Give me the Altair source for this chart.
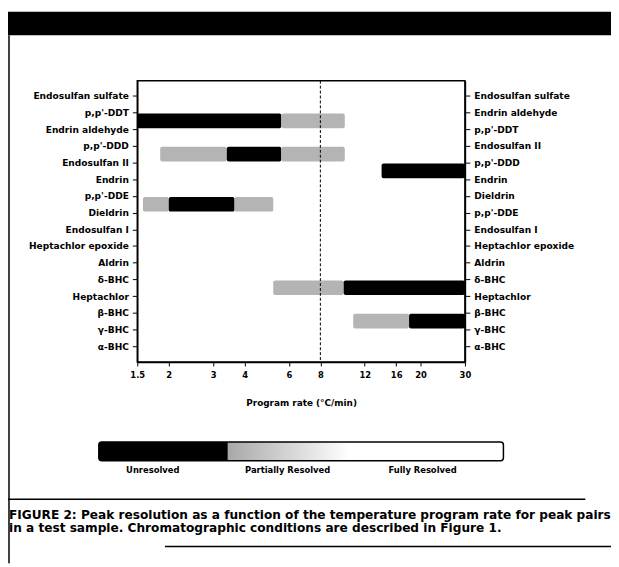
import json
import altair as alt
import pandas as pd

# ---- data ----
left_labels = ["Endosulfan sulfate", "p,p'-DDT", "Endrin aldehyde", "p,p'-DDD",
               "Endosulfan II", "Endrin", "p,p'-DDE", "Dieldrin", "Endosulfan I",
               "Heptachlor epoxide", "Aldrin", "δ-BHC", "Heptachlor", "β-BHC",
               "γ-BHC", "α-BHC"]
right_labels = ["Endosulfan sulfate", "Endrin aldehyde", "p,p'-DDT", "Endosulfan II",
                "p,p'-DDD", "Endrin", "Dieldrin", "p,p'-DDE", "Endosulfan I",
                "Heptachlor epoxide", "Aldrin", "δ-BHC", "Heptachlor", "β-BHC",
                "γ-BHC", "α-BHC"]
x_ticks = [1.5, 2, 3, 4, 6, 8, 12, 16, 20, 30]
legend_labels = ["Unresolved", "Partially Resolved", "Fully Resolved"]

# peak-pair row (upper label index) and resolution segments
seg_row = [1, 1, 3, 3, 3, 4, 6, 6, 6, 11, 11, 13, 13]
seg_start = [1.5, 5.6, 1.85, 3.4, 5.6, 14, 1.58, 2.0, 3.65, 5.2, 9.9, 10.8, 18]
seg_end = [5.6, 10, 3.4, 5.6, 10, 30, 2.0, 3.65, 5.2, 9.9, 30, 18, 30]
seg_state = ["Unresolved", "Partially Resolved",
             "Partially Resolved", "Unresolved", "Partially Resolved",
             "Unresolved",
             "Partially Resolved", "Unresolved", "Partially Resolved",
             "Partially Resolved", "Unresolved",
             "Partially Resolved", "Unresolved"]
divider_rate = [8]

caption_lines = [
    "FIGURE 2:  Peak resolution as a function of the temperature program rate for peak pairs",
    "in a test sample. Chromatographic conditions are described in Figure 1.",
]

# ---- chart ----
FONT = "DejaVu Sans"
seg = pd.DataFrame({"row": seg_row, "start": seg_start, "end": seg_end, "state": seg_state})

yscale = alt.Scale(domain=[-0.9, 15.95], reverse=True, nice=False, zero=False)
xscale = alt.Scale(type="log", domain=[1.5, 30], nice=False)


def lab_expr(labels):
    return json.dumps(labels, ensure_ascii=False) + "[round(datum.value)]"


common = dict(labelFont=FONT, labelFontWeight="bold", labelColor="black",
              tickColor="black", domainColor="black", grid=False, domainWidth=1.5)

bars = alt.Chart(seg).transform_calculate(
    y0="datum.row + 0.06", y1="datum.row + 0.94"
).mark_rect(cornerRadius=2).encode(
    x=alt.X("start:Q", scale=xscale,
            axis=alt.Axis(values=x_ticks, format="~g", title="Program rate (°C/min)",
                          tickSize=4, labelPadding=5, labelFontSize=8.5, labelFlush=False,
                          titleFont=FONT, titleFontSize=9, titleFontWeight="bold",
                          titlePadding=20, titleColor="black", **common)),
    x2="end:Q",
    y=alt.Y("y0:Q", scale=yscale,
            axis=alt.Axis(values=list(range(16)), labelExpr=lab_expr(left_labels), title=None,
                          tickSize=5, labelPadding=4, labelFontSize=9.2, **common)),
    y2="y1:Q",
    color=alt.Color("state:N",
                    scale=alt.Scale(domain=legend_labels[:2], range=["black", "#b4b4b4"]),
                    legend=None),
)

rule = alt.Chart(pd.DataFrame({"rate": divider_rate})).mark_rule(
    strokeDash=[3, 2], color="black", strokeWidth=1
).encode(x="rate:Q")

right_axis = alt.Chart(pd.DataFrame({"idx": list(range(16))})).mark_point(opacity=0).encode(
    y=alt.Y("idx:Q", scale=yscale,
            axis=alt.Axis(orient="right", values=list(range(16)), labelExpr=lab_expr(right_labels),
                          title=None, tickSize=5, labelPadding=4, labelFontSize=9.2, **common))
)

main = alt.layer(bars, rule, right_axis).resolve_scale(y="independent")

# legend strip
gradient = {
    "gradient": "linear", "x1": 0, "x2": 1, "y1": 0, "y2": 0,
    "stops": [
        {"offset": 0, "color": "black"},
        {"offset": 0.317, "color": "black"},
        {"offset": 0.32, "color": "#a8a8a8"},
        {"offset": 0.45, "color": "#cfcfcf"},
        {"offset": 0.62, "color": "#ffffff"},
        {"offset": 1, "color": "#ffffff"},
    ],
}
lscale = alt.Scale(domain=[0, len(legend_labels)], range=[-39, 371])
legend_bar = alt.Chart(pd.DataFrame({"a": [0], "b": [len(legend_labels)]})).mark_rect(
    fill=gradient, stroke="black", strokeWidth=1.5, cornerRadius=3
).encode(
    x=alt.X("a:Q", scale=lscale, axis=None), x2="b:Q",
    y=alt.value(366), y2=alt.value(385),
)
legend_text = alt.Chart(pd.DataFrame({"label": legend_labels, "i": list(range(3))})).transform_calculate(
    pos="datum.i + 0.4"
).mark_text(font=FONT, fontWeight="bold", fontSize=8.5, baseline="middle", color="black").encode(
    x=alt.X("pos:Q", scale=lscale, axis=None), y=alt.value(394), text="label:N"
)
legend = alt.layer(legend_bar, legend_text)

# page decorations (frame band and rules of the figure box)
one = pd.DataFrame({"k": [0]})
band = alt.Chart(one).mark_rect(color="black").encode(
    x=alt.value(-131), x2=alt.value(480), y=alt.value(-70), y2=alt.value(-46))
left_line = alt.Chart(one).mark_rule(color="black", strokeWidth=1.5).encode(
    x=alt.value(-130), y=alt.value(-46), y2=alt.value(489))
divider = alt.Chart(one).mark_rule(color="black", strokeWidth=1.5).encode(
    x=alt.value(-131), x2=alt.value(454), y=alt.value(424))
bottom_line = alt.Chart(one).mark_rule(color="black", strokeWidth=1.5).encode(
    x=alt.value(28), x2=alt.value(480), y=alt.value(472))
caption = alt.Chart(pd.DataFrame({"t": ["\n".join(caption_lines)]})).mark_text(
    align="left", baseline="top", font=FONT, fontWeight="bold", fontSize=12.3,
    lineBreak="\n", lineHeight=13, color="black"
).encode(x=alt.value(-130), y=alt.value(434), text="t:N")

chart = alt.layer(main, legend, band, left_line, divider, bottom_line, caption).resolve_scale(
    x="independent"
).properties(
    width=332, height=285,
    autosize=alt.AutoSizeParams(type="none"),
    padding={"left": 131, "top": 70, "right": 148, "bottom": 204},
).configure_view(stroke="black", strokeWidth=1.5)

chart.save("out.html", embed_options={"renderer": "svg", "actions": False})
